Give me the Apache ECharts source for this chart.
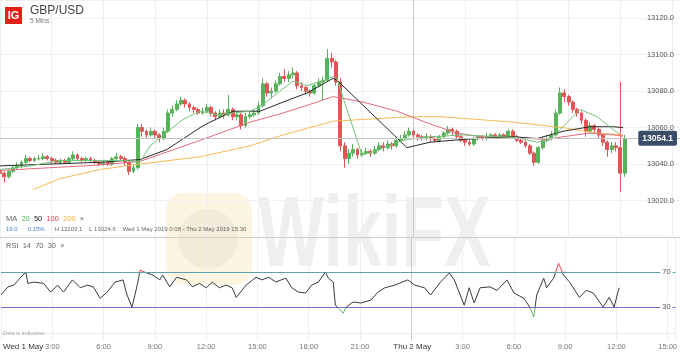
<!DOCTYPE html>
<html><head><meta charset="utf-8">
<script src="https://cdn.jsdelivr.net/npm/echarts@6/dist/echarts.min.js"></script>
<style>html,body{margin:0;padding:0;background:#fff}#c{width:680px;height:353px}</style>
</head><body><div id="c"></div>
<script>
// ---- data (hours since Wed 1 May 0:00, 15-minute candles) ----
const candleStartHour = 0;
const candleStepHour = 0.25;
const firstOpen = 13036;
const closes = [13035,13033,13036,13038,13039,13041,13043,13042,13043,13043,
13044,13043,13042,13041,13042,13041,13043,13045,13043,13042,
13043,13042,13041,13040,13041,13040,13043,13044,13043,13041,
13036,13038,13060,13058,13056,13058,13056,13054,13058,13068,
13070,13073,13075,13073,13071,13070,13068,13069,13071,13068,
13066,13068,13067,13070,13066,13067,13061,13066,13067,13068,
13072,13084,13079,13080,13084,13088,13087,13089,13090,13083,
13082,13080,13079,13083,13085,13086,13098,13096,13085,13050,
13043,13046,13048,13045,13046,13047,13046,13048,13050,13049,
13051,13050,13053,13054,13056,13058,13056,13055,13054,13055,
13054,13053,13055,13057,13059,13058,13055,13053,13052,13051,
13054,13055,13054,13055,13056,13055,13056,13055,13058,13055,
13053,13052,13050,13046,13041,13049,13053,13054,13056,13068,
13079,13077,13074,13070,13068,13064,13058,13061,13059,13056,
13052,13048,13050,13049,13035,13054.1];
const highs = [13038,13036,13037,13039,13041,13042,13045,13044,13044,13045,
13046,13045,13044,13043,13043,13043,13044,13047,13046,13044,
13044,13044,13043,13042,13042,13042,13044,13046,13045,13044,
13042,13040,13062,13062,13059,13060,13059,13057,13060,13070,
13072,13075,13077,13076,13074,13072,13071,13071,13073,13072,
13069,13070,13070,13078,13071,13069,13068,13068,13069,13070,
13074,13087,13085,13082,13086,13090,13092,13091,13093,13091,
13085,13083,13081,13084,13087,13088,13103.1,13101,13097,13087,
13052,13048,13051,13049,13048,13049,13048,13050,13052,13052,
13053,13052,13055,13056,13058,13060,13059,13057,13056,13057,
13056,13055,13056,13058,13061,13060,13059,13056,13054,13053,
13055,13056,13056,13057,13057,13057,13057,13057,13059,13059,
13056,13054,13053,13051,13047,13050,13055,13056,13058,13070,
13082,13081,13078,13075,13071,13069,13065,13063,13062,13060,
13057,13053,13052,13052,13085,13056];
const lows = [13031,13030,13032,13035,13037,13038,13040,13041,13041,13042,
13042,13042,13040,13040,13040,13040,13040,13042,13042,13041,
13041,13041,13040,13039,13039,13039,13039,13042,13042,13039,
13034,13035,13037,13055,13054,13055,13054,13052,13053,13057,
13066,13069,13072,13071,13069,13068,13067,13067,13068,13066,
13064,13065,13065,13066,13064,13064,13059,13060,13065,13066,
13067,13071,13077,13076,13079,13083,13085,13085,13087,13081,
13080,13078,13077,13078,13082,13075,13085,13093,13083,13047,
13038,13040,13044,13043,13044,13045,13044,13045,13047,13047,
13048,13048,13049,13052,13053,13055,13054,13053,13053,13053,
13052,13052,13052,13054,13056,13056,13054,13052,13050,13050,
13050,13053,13053,13053,13054,13054,13054,13054,13054,13054,
13052,13051,13049,13045,13039,13040,13048,13052,13053,13055,
13067,13074,13072,13068,13066,13062,13055,13057,13057,13054,
13050,13044,13046,13047,13024.6,13033];

const ma20Hours  = [0,1.74,3.48,5.8,7.25,8.13,8.71,10.62,11.61,12.59,14.51,15.09,17.01,17.82,18.98,19.33,19.56,21.01,22.05,23.04,23.62,24.96,26.87,28.85,30.01,31.17,31.92,32.68,33.66,34.65,35.58,36.16];
const ma20Values = [13037,13039,13042,13042,13042,13041,13050,13064.5,13069,13067,13069,13071.5,13085.5,13083,13086.5,13088,13086.5,13045,13048,13052,13053.5,13055,13056,13055,13054.5,13052,13053.5,13060.5,13070,13066,13059,13055];
const ma50Hours  = [0,2.9,5.8,8.13,9.69,11.61,12.19,13.52,15.09,16.43,17.82,19.33,19.56,23.62,24.96,26.87,29.77,31.17,32.68,34.24,35.58,36.16];
const ma50Values = [13039,13040,13041,13042.5,13048,13060,13063,13069,13069,13074,13079,13087,13086,13049,13052,13053.5,13055,13054,13058,13060.5,13060.5,13060];
const ma100Hours  = [0,2.9,5.8,8.13,11.61,14.51,16.43,18.4,19.33,21.07,23.04,24.96,26.52,27.86,29.77,31.75,32.68,34.24,35.58,36.16];
const ma100Values = [13036.5,13038,13039.5,13041.5,13053,13063,13068,13074,13077,13074,13069,13062,13057,13055,13054.5,13053.5,13055,13057,13056,13055.5];
const ma200Hours  = [1.92,3.48,5.8,8.13,11.61,14.51,16.43,19.33,21.07,23.97,25.54,29.77,32.68,34.65,36.16];
const ma200Values = [13026,13032,13037,13040,13044,13050,13056,13063.5,13064.5,13066,13066,13063,13060,13057,13056];

const rsiHours = [0,0.41,0.75,1.16,1.45,1.57,1.92,2.5,2.9,3.31,3.66,4.18,4.64,5.05,5.4,5.8,6.21,6.67,7.14,7.37,7.66,7.84,8.01,8.13,8.53,8.88,9.29,9.46,9.87,10.27,10.85,11.2,11.61,12.01,12.36,12.77,13.17,13.52,13.76,14.34,14.92,15.26,15.67,16.08,16.66,17.01,17.41,17.82,18.17,18.57,18.98,19.15,19.44,19.56,19.73,20.02,20.2,20.6,21.07,21.65,22.05,22.46,23.04,23.8,24.2,24.78,25.13,25.71,26.23,26.52,27.1,27.39,27.68,28.03,28.61,29.02,29.6,30.01,30.59,30.93,31.17,31.34,31.75,31.92,32.33,32.62,32.91,33.26,33.84,34.24,34.65,35.23,35.58,35.87,36.16];
const rsiValues = [44,53,55,64,70,57,58.5,57,47,55,47,61,52,55,53,40,47,58.5,61,44,30,44,58.5,72,69,66.5,61,66.5,53,64,61,53,57,52,58.5,52,55,52,41,55,64,61,64,58.5,63,52,47,46,55,58.5,70,63,58.5,32,29,23,30,35.7,34.6,38,47,52,55,61,55,52,43.7,58.5,69,61,32,52,34.6,52,53,49,61,46,40,30,18.6,43.7,63,52,63,80,66.5,58.5,41,49,46,30,41,30,52];

const lastPrice = 13054.1;
const rsiLevels = [70, 30];
const xTickHours  = [0,3,6,9,12,15,18,21,24,27,30,33,36,39];
const xTickLabels = ['Wed 1 May','3:00','6:00','9:00','12:00','15:00','18:00','21:00','Thu 2 May','3:00','6:00','9:00','12:00','15:00'];
const yTicks = [13020,13040,13060,13080,13100,13120];

// ---- build ----
const candleData = closes.map((c, i) => {
  const o = i === 0 ? firstOpen : closes[i - 1];
  return [candleStartHour + i * candleStepHour, o, c, lows[i], highs[i]];
});
const pairs = (xs, ys) => xs.map((x, i) => [x, ys[i]]);
const FONT = 'Liberation Sans, Arial, sans-serif';
const splitColors = xTickHours.map(h => h === 24 ? '#c9c9c9' : '#efefef');

const chart = echarts.init(document.getElementById('c'));
const xCommon = {
  type: 'value', min: 0, max: 39.466, interval: 3,
  axisTick: { show: false },
  splitLine: { show: true, lineStyle: { color: splitColors, width: 1 } }
};
chart.setOption({
  animation: false,
  backgroundColor: '#fff',
  textStyle: { fontFamily: FONT },
  grid: [
    { left: 0, right: 0, top: 0, height: 237 },
    { left: 0, right: 0, top: 237, height: 103.25 }
  ],
  xAxis: [
    Object.assign({}, xCommon, { gridIndex: 0, axisLabel: { show: false },
      axisLine: { show: true, lineStyle: { color: '#cfcfcf' } } }),
    Object.assign({}, xCommon, { gridIndex: 1,
      axisLine: { show: true, lineStyle: { color: '#ececec' } },
      axisLabel: {
        margin: 3, showMinLabel: true, alignMinLabel: 'left', hideOverlap: false, fontFamily: FONT,
        formatter: v => {
          const i = xTickHours.indexOf(v);
          if (i < 0) return '';
          return v % 24 === 0 ? '{d|' + xTickLabels[i] + '}' : '{h|' + xTickLabels[i] + '}';
        },
        rich: { d: { color: '#333', fontSize: 8, fontFamily: FONT, padding: [0, 0, 0, 2] }, h: { color: '#777', fontSize: 7.5, fontFamily: FONT } }
      } })
  ],
  yAxis: [
    { type: 'value', gridIndex: 0, position: 'right', min: 13000, max: 13130, interval: 20,
      axisLine: { show: false }, axisTick: { show: false },
      axisLabel: { inside: true, margin: 6, color: '#555', fontSize: 7.5, fontFamily: FONT,
        formatter: v => yTicks.indexOf(v) >= 0 ? v.toFixed(1) : '' },
      splitLine: { show: true, lineStyle: { color: '#f0f0f0' } } },
    { type: 'value', gridIndex: 1, min: -8, max: 110, show: false, splitLine: { show: false } }
  ],
  visualMap: [{
    type: 'piecewise', show: false, seriesIndex: 5, dimension: 1,
    pieces: [ { lt: 30, color: '#62b862' }, { gte: 30, lte: 70, color: '#3a3a3a' }, { gt: 70, color: '#e8434f' } ]
  }],
  graphic: [
    { type: 'group', z: 1, silent: true, children: [
      { type: 'rect', shape: { x: 166, y: 193, width: 86, height: 92, r: 18 }, style: { fill: 'rgba(250,222,160,0.3)' } },
      { type: 'circle', shape: { cx: 208, cy: 239, r: 30 }, style: { fill: 'rgba(150,150,150,0.1)' } },
      { type: 'text', scaleX: 0.7, x: 258, y: 238, style: { text: 'WikiFX', font: 'bold 100px ' + FONT, fill: 'rgba(175,175,175,0.2)', align: 'left', verticalAlign: 'middle' } }
    ] },
    { type: 'rect', z: 10, shape: { x: 5, y: 7, width: 17, height: 17 }, style: { fill: '#e2231a' } },
    { type: 'text', z: 11, style: { x: 13.5, y: 16, text: 'IG', fill: '#fff', font: 'bold 11px ' + FONT, align: 'center', verticalAlign: 'middle' } },
    { type: 'text', z: 10, style: { x: 30, y: 11, text: 'GBP/USD', fill: '#444', font: '12px ' + FONT, verticalAlign: 'middle' } },
    { type: 'text', z: 10, style: { x: 30, y: 21, text: '5 Mins', fill: '#777', font: '6.5px ' + FONT, verticalAlign: 'middle' } },
    { type: 'text', z: 10, style: { x: 6, y: 219, verticalAlign: 'middle', font: '7.5px ' + FONT,
      text: '{a|MA}  {g|20}  {k|50}  {r|100}  {o|200}  {a|×}',
      rich: { a: { fill: '#666', fontSize: 7.5 }, g: { fill: '#4caf50', fontSize: 7.5 }, k: { fill: '#222', fontSize: 7.5 }, r: { fill: '#e8414c', fontSize: 7.5 }, o: { fill: '#f0b030', fontSize: 7.5 } } } },
    { type: 'text', z: 10, style: { x: 6, y: 229.5, verticalAlign: 'middle', font: '6px ' + FONT,
      text: '{b|19.0}      {b|0.15%}      {a|H 13103.1}    {a|L 13024.6}    {a|Wed 1 May 2019 0:08 - Thu 2 May 2019 15:30}',
      rich: { a: { fill: '#666', fontSize: 6 }, b: { fill: '#3d7fd0', fontSize: 6 } } } },
    { type: 'text', z: 10, style: { x: 6, y: 245.5, text: 'RSI  14  70  30  ×', fill: '#666', font: '7.5px ' + FONT, verticalAlign: 'middle' } },
    { type: 'text', z: 10, style: { x: 3, y: 333.5, text: 'Data is indicative', fill: '#aaa', font: '5.5px ' + FONT, verticalAlign: 'middle' } }
  ],
  series: [
    { type: 'candlestick', xAxisIndex: 0, yAxisIndex: 0, barWidth: 3.4,
      dimensions: ['t', 'open', 'close', 'lowest', 'highest'],
      encode: { x: 't', y: ['open', 'close', 'lowest', 'highest'] },
      data: candleData, z: 3,
      itemStyle: { color: '#57b35a', color0: '#e05656', borderColor: '#57b35a', borderColor0: '#e05656', borderWidth: 1 },
      markLine: { silent: true, symbol: 'none', animation: false,
        lineStyle: { color: '#c4c4c4', type: 'solid', width: 1 },
        label: { position: 'insideEnd', distance: 3, formatter: String(lastPrice), color: '#fff', fontSize: 8.5, fontWeight: 'bold',
          backgroundColor: '#3b4c68', padding: [3, 4], borderRadius: 2, fontFamily: FONT },
        data: [{ yAxis: lastPrice }] } },
    { type: 'line', xAxisIndex: 0, yAxisIndex: 0, data: pairs(ma200Hours, ma200Values), showSymbol: false, z: 4,
      lineStyle: { color: '#f5bb55', width: 1 }, itemStyle: { color: '#f5bb55' } },
    { type: 'line', xAxisIndex: 0, yAxisIndex: 0, data: pairs(ma100Hours, ma100Values), showSymbol: false, z: 4,
      lineStyle: { color: '#e36b7e', width: 1 }, itemStyle: { color: '#e36b7e' } },
    { type: 'line', xAxisIndex: 0, yAxisIndex: 0, data: pairs(ma50Hours, ma50Values), showSymbol: false, z: 4,
      lineStyle: { color: '#2a2a2a', width: 1 }, itemStyle: { color: '#2a2a2a' } },
    { type: 'line', xAxisIndex: 0, yAxisIndex: 0, data: pairs(ma20Hours, ma20Values), showSymbol: false, z: 4,
      lineStyle: { color: '#74c277', width: 1 }, itemStyle: { color: '#74c277' } },
    { type: 'line', xAxisIndex: 1, yAxisIndex: 1, data: pairs(rsiHours, rsiValues), showSymbol: false, z: 4,
      lineStyle: { width: 1 } },
    { type: 'line', xAxisIndex: 1, yAxisIndex: 1, data: [], z: 3,
      markLine: { silent: true, symbol: 'none', animation: false,
        label: { position: 'insideEnd', distance: 3, color: '#555', fontSize: 7.5, backgroundColor: '#fff', padding: [0, 2], fontFamily: FONT },
        data: [
          { yAxis: rsiLevels[0], lineStyle: { color: '#5f9fb0', type: 'solid', width: 1 }, label: { formatter: String(rsiLevels[0]) } },
          { yAxis: rsiLevels[1], lineStyle: { color: '#6b6fc4', type: 'solid', width: 1 }, label: { formatter: String(rsiLevels[1]) } }
        ] } }
  ]
});
</script></body></html>
